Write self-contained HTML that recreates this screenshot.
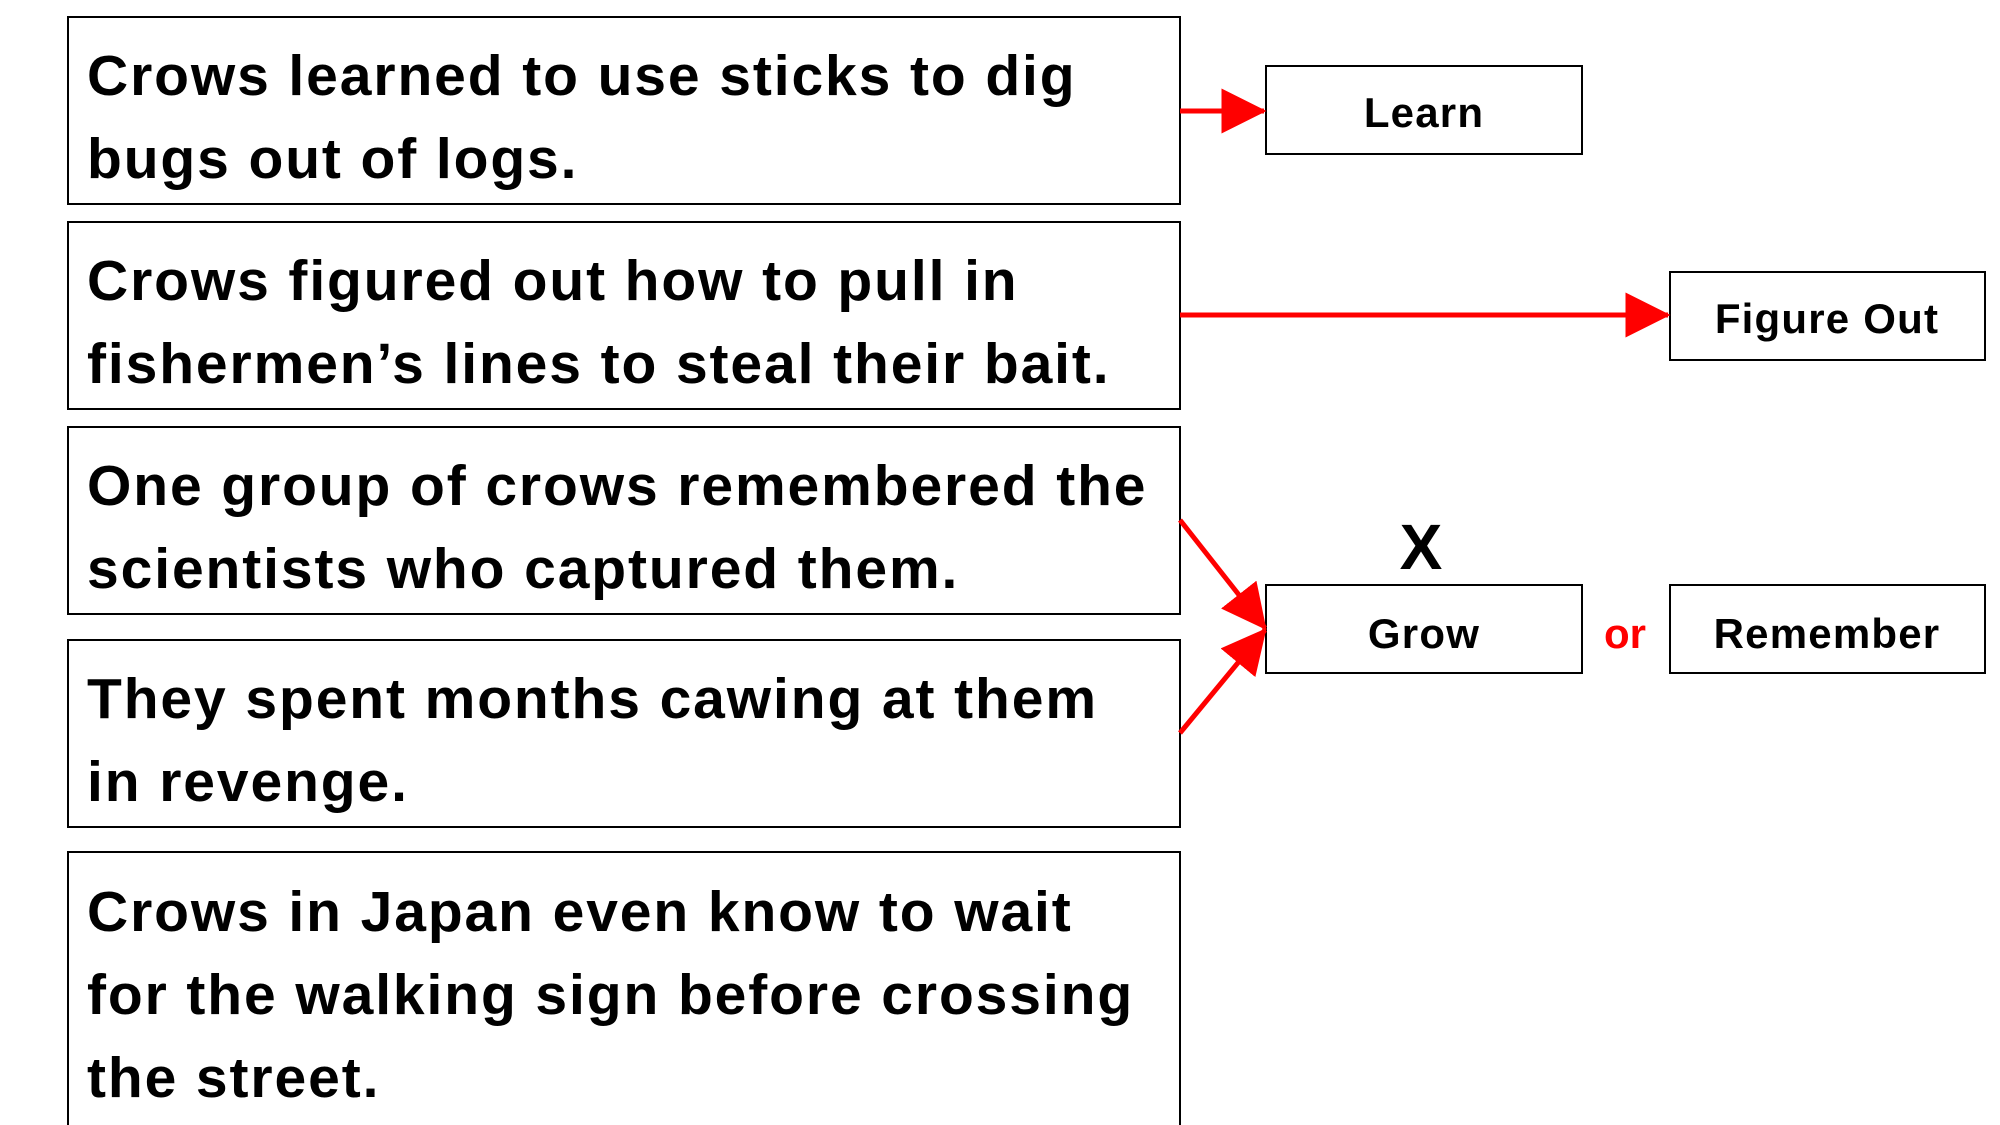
<!DOCTYPE html>
<html><head><meta charset="utf-8"><style>
html,body{margin:0;padding:0;background:#fff;}
svg{display:block;}
text{font-family:"Liberation Sans",Arial,sans-serif;font-weight:bold;fill:#000;}
.big{letter-spacing:1.9px;}
.sm{letter-spacing:1.2px;}
</style></head><body>
<svg width="2000" height="1125" viewBox="0 0 2000 1125">
<defs>
<marker id="ah" markerWidth="9" markerHeight="9" refX="8.5" refY="4.5" orient="auto" markerUnits="strokeWidth">
<path d="M0,0 L9,4.5 L0,9 Z" fill="#f00"/>
</marker>
</defs>
<g>
<rect x="68" y="17" width="1112" height="187" fill="#fff" stroke="#000" stroke-width="2"/>
<text class="big" x="87" y="95" font-size="57">Crows learned to use sticks to dig</text>
<text class="big" x="87" y="178" font-size="57">bugs out of logs.</text>
</g>
<g>
<rect x="68" y="222" width="1112" height="187" fill="#fff" stroke="#000" stroke-width="2"/>
<text class="big" x="87" y="300" font-size="57">Crows figured out how to pull in</text>
<text class="big" x="87" y="383" font-size="57">fishermen’s lines to steal their bait.</text>
</g>
<g>
<rect x="68" y="427" width="1112" height="187" fill="#fff" stroke="#000" stroke-width="2"/>
<text class="big" x="87" y="505" font-size="57">One group of crows remembered the</text>
<text class="big" x="87" y="588" font-size="57">scientists who captured them.</text>
</g>
<g>
<rect x="68" y="640" width="1112" height="187" fill="#fff" stroke="#000" stroke-width="2"/>
<text class="big" x="87" y="718" font-size="57">They spent months cawing at them</text>
<text class="big" x="87" y="801" font-size="57">in revenge.</text>
</g>
<g>
<rect x="68" y="852" width="1112" height="280" fill="#fff" stroke="#000" stroke-width="2"/>
<text class="big" x="87" y="931" font-size="57">Crows in Japan even know to wait</text>
<text class="big" x="87" y="1014" font-size="57">for the walking sign before crossing</text>
<text class="big" x="87" y="1097" font-size="57">the street.</text>
</g>
<g>
<rect x="1266" y="66" width="316" height="88" fill="#fff" stroke="#000" stroke-width="2"/>
<text class="sm" x="1424" y="127" font-size="42" text-anchor="middle">Learn</text>
</g>
<g>
<rect x="1670" y="272" width="315" height="88" fill="#fff" stroke="#000" stroke-width="2"/>
<text class="sm" x="1827" y="333" font-size="42" text-anchor="middle">Figure Out</text>
</g>
<g>
<rect x="1266" y="585" width="316" height="88" fill="#fff" stroke="#000" stroke-width="2"/>
<text class="sm" x="1424" y="648" font-size="42" text-anchor="middle">Grow</text>
</g>
<g>
<rect x="1670" y="585" width="315" height="88" fill="#fff" stroke="#000" stroke-width="2"/>
<text class="sm" x="1827" y="648" font-size="42" text-anchor="middle">Remember</text>
</g>
<text x="1625" y="648" font-size="42" text-anchor="middle" style="fill:#f00">or</text>
<text x="1421" y="569" font-size="64" text-anchor="middle">X</text>
<g stroke="#f00" stroke-width="5" fill="none">
<line x1="1180" y1="111" x2="1264" y2="111" marker-end="url(#ah)"/>
<line x1="1180" y1="315" x2="1668" y2="315" marker-end="url(#ah)"/>
<line x1="1180" y1="520" x2="1265" y2="628" marker-end="url(#ah)"/>
<line x1="1180" y1="733" x2="1265" y2="630" marker-end="url(#ah)"/>
</g>
</svg>
</body></html>
